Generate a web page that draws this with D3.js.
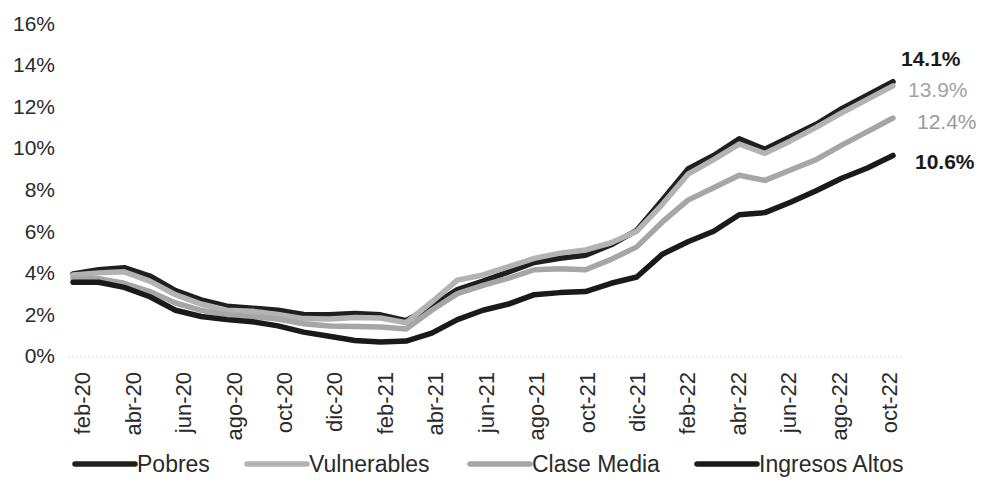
<!DOCTYPE html>
<html>
<head>
<meta charset="utf-8">
<script src="https://cdn.jsdelivr.net/npm/d3@7"></script>
<style>
  body { margin: 0; background: #fff; }
  svg { display: block; font-family: "Liberation Sans", Arial, sans-serif; }
  .axis text { font-size: 21px; fill: #2a2a2a; }
  .x-axis text { font-size: 22px; }
  .axis path, .axis line { display: none; }
  .legend-text { font-size: 23px; fill: #2a2a2a; }
  .end-label { font-size: 21px; }
</style>
</head>
<body>
<div class="content"></div>
<script>
const width = 985;
const height = 491;

// months feb-20 .. oct-22
const months = [
  "feb-20", "mar-20", "abr-20", "may-20", "jun-20", "jul-20", "ago-20", "sep-20",
  "oct-20", "nov-20", "dic-20", "ene-21", "feb-21", "mar-21", "abr-21", "may-21",
  "jun-21", "jul-21", "ago-21", "sep-21", "oct-21", "nov-21", "dic-21", "ene-22",
  "feb-22", "mar-22", "abr-22", "may-22", "jun-22", "jul-22", "ago-22", "sep-22",
  "oct-22"
];
const tickLabels = months.filter((d, i) => i % 2 === 0);
const yTicks = [0, 2, 4, 6, 8, 10, 12, 14, 16];

const seriesNames = ["Pobres", "Vulnerables", "Clase Media", "Ingresos Altos"];

const pobres = [
  3.95, 4.15, 4.25, 3.85, 3.15, 2.7, 2.4, 2.3, 2.2, 2.0, 1.98, 2.05, 1.98, 1.7,
  2.4, 3.2, 3.6, 4.05, 4.5, 4.7, 4.85, 5.35, 6.05, 7.5, 9.0, 9.65, 10.45, 9.95,
  10.55, 11.15, 11.9, 12.55, 13.2
];
const vulnerables = [
  3.9, 4.0, 4.05, 3.6, 2.95, 2.5, 2.2, 2.15, 2.0, 1.8, 1.78, 1.85, 1.83, 1.6,
  2.6, 3.65, 3.9, 4.3, 4.7, 4.95, 5.1, 5.45, 6.0, 7.3, 8.75, 9.45, 10.2, 9.75,
  10.35, 11.0, 11.7, 12.35, 13.0
];
const claseMedia = [
  3.75, 3.72, 3.5, 3.1, 2.55, 2.2, 1.98, 1.9, 1.78, 1.55, 1.44, 1.42, 1.4, 1.3,
  2.2, 3.0, 3.4, 3.75, 4.15, 4.2, 4.15, 4.65, 5.25, 6.45, 7.5, 8.1, 8.7, 8.45,
  8.95, 9.45, 10.15, 10.8, 11.45
];
const ingresosAltos = [
  3.55, 3.55, 3.3, 2.85, 2.2, 1.9, 1.75, 1.65, 1.45, 1.15, 0.95, 0.75, 0.67, 0.72,
  1.1, 1.75, 2.2, 2.5, 2.95, 3.05, 3.1, 3.5, 3.8, 4.9, 5.5, 6.0, 6.8, 6.9,
  7.4, 7.95, 8.55, 9.05, 9.65
];
const endLabels = ["14.1%", "13.9%", "12.4%", "10.6%"];

const series = seriesNames.map((name, k) => ({
  name,
  values: [pobres, vulnerables, claseMedia, ingresosAltos][k],
  label: endLabels[k]
}));

//--> styles per series
const lineColors = ["#1f1f1f", "#b3b3b3", "#a6a6a6", "#1a1a1a"];
const labelColors = ["#1a1a1a", "#a3a3a3", "#999999", "#1a1a1a"];
const labelBold = [true, false, false, true];
const labelOffsets = [[8, -23], [15, 4], [24, 4], [22, 6]];
const legendX = [75, 247, 470, 697];

const xScale = d3.scalePoint().domain(months).range([73, 893]);
// the scanned axis labels sit on a slightly tighter spacing than the data
const tickScale = d3.scalePoint().domain(months).range([82, 889]);
const yScale = d3.scaleLinear().domain([0, 16]).range([356, 23.5]);

const svg = d3
  .select(".content")
  .append("svg")
  .attr("width", width)
  .attr("height", height);

svg.append("rect").attr("width", width).attr("height", height).attr("fill", "#fff");

//--> zero line
svg
  .append("line")
  .attr("x1", 68)
  .attr("x2", 902)
  .attr("y1", yScale(0) + 1)
  .attr("y2", yScale(0) + 1)
  .attr("stroke", "#d4d4d4")
  .attr("stroke-width", 1.2)
  .attr("stroke-dasharray", "2,2");

//--> Y axis
svg
  .append("g")
  .attr("class", "axis")
  .attr("transform", "translate(62, 0)")
  .call(d3.axisLeft(yScale).tickValues(yTicks).tickSize(0).tickPadding(7).tickFormat(d => d + "%"));

//--> X axis
const xAxis = svg
  .append("g")
  .attr("class", "axis x-axis")
  .attr("transform", `translate(0, ${yScale(0)})`)
  .call(d3.axisBottom(tickScale).tickValues(tickLabels).tickSize(0));

xAxis
  .selectAll("text")
  .attr("transform", "rotate(-90)")
  .attr("x", -16)
  .attr("y", 0)
  .attr("dy", "0.35em")
  .style("text-anchor", "end");

//--> lines
const line = d3
  .line()
  .x((d, i) => xScale(months[i]))
  .y(d => yScale(d))
  .curve(d3.curveLinear);

svg
  .selectAll(".series")
  .data(series)
  .enter()
  .append("path")
  .attr("class", "series")
  .attr("d", d => line(d.values))
  .attr("fill", "none")
  .attr("stroke", (d, i) => lineColors[i])
  .attr("stroke-width", 5.5)
  .attr("stroke-linejoin", "round")
  .attr("stroke-linecap", "round");

//--> end labels
svg
  .selectAll(".end-label")
  .data(series)
  .enter()
  .append("text")
  .attr("class", "end-label")
  .attr("x", (d, i) => xScale(months[months.length - 1]) + labelOffsets[i][0])
  .attr("y", (d, i) => yScale(d.values[d.values.length - 1]) + labelOffsets[i][1])
  .attr("dy", "0.35em")
  .attr("fill", (d, i) => labelColors[i])
  .attr("font-weight", (d, i) => (labelBold[i] ? "bold" : "normal"))
  .text(d => d.label);

//--> legend
const legend = svg.append("g").attr("transform", "translate(0, 464)");

const item = legend
  .selectAll("g")
  .data(series)
  .enter()
  .append("g")
  .attr("transform", (d, i) => `translate(${legendX[i]}, 0)`);

item
  .append("line")
  .attr("x1", 0)
  .attr("x2", 60)
  .attr("stroke", (d, i) => lineColors[i])
  .attr("stroke-width", 5.5)
  .attr("stroke-linecap", "round");

item
  .append("text")
  .attr("class", "legend-text")
  .attr("x", 62)
  .attr("dy", "0.35em")
  .text(d => d.name);
</script>
</body>
</html>
